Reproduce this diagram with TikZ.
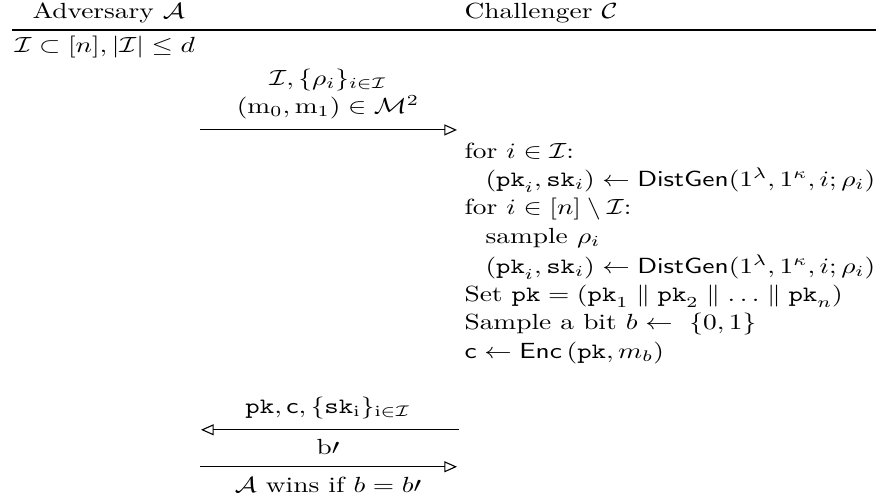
\documentclass[tikz,border=0pt]{standalone}
\usepackage{amsmath,amssymb}
\usepackage{tikz}
\usetikzlibrary{arrows.meta,positioning}
\tikzset{
  sor/.style={anchor=west,inner sep=0pt},
  cimke/.style={inner sep=0pt},
  uzen/.style={-{Triangle[open,length=4.6pt,width=4pt]}},
}
\newcommand{\pk}{\mathtt{pk}}
\newcommand{\sk}{\mathtt{sk}}

\begin{document}
\begin{tikzpicture}[x=0.365pt,y=-0.456pt,yscale=0.8,
    every node/.append style={transform shape}]
  \useasboundingbox (0,0) rectangle (876,503);
  % fejlec
  \node[sor] (adv) at (32,13) {Adversary $\mathcal{A}$};
  \node[sor] (chal) at (464,13) {Challenger $\mathcal{C}$};
  \coordinate (vb) at (12,30);
  \coordinate (vj) at (876,30);
  \draw (vb) -- (vj);
  \node[sor] (valaszt) at (14,47) {$\mathcal{I}\subset[n],|\mathcal{I}|\le d$};
  % elso uzenet
  \node[cimke] (m1a) at (328,80) {$\mathcal{I},\{\rho_i\}_{i\in\mathcal{I}}$};
  \node[cimke] (m1b) at (328,107) {$(\mathrm{m}_0,\mathrm{m}_1)\in\mathcal{M}^2$};
  \coordinate (n1b) at (200,130);
  \coordinate (n1j) at (457,130);
  \draw[uzen] (n1b) -- (n1j);
  % kihivo lepesei
  \node[sor] (s1) at (464,151) {for $i\in\mathcal{I}$:};
  \node[sor] (s2) at (485,180) {$(\pk_i,\sk_i)\leftarrow\mathsf{DistGen}(1^\lambda,1^\kappa,i;\rho_i)$};
  \node[sor] (s3) at (464,209) {for $i\in[n]\setminus\mathcal{I}$:};
  \node[sor] (s4) at (485,238) {sample $\rho_i$};
  \node[sor] (s5) at (485,267) {$(\pk_i,\sk_i)\leftarrow\mathsf{DistGen}(1^\lambda,1^\kappa,i;\rho_i)$};
  \node[sor] (s6) at (464,296) {Set $\pk=(\pk_1\parallel\pk_2\parallel\ldots\parallel\pk_n)$};
  \node[sor] (s7) at (464,324) {Sample a bit $b\leftarrow\ \{0,1\}$};
  \node[sor] (s8) at (464,353) {$\mathsf{c}\leftarrow\mathsf{Enc}\,(\pk,m_b)$};
  % visszaut
  \node[cimke] (m2) at (328,408) {$\pk,\mathsf{c},\{\sk_\mathrm{i}\}_{\mathrm{i}\in\mathcal{I}}$};
  \coordinate (n2j) at (459,430);
  \coordinate (n2b) at (201,430);
  \draw[uzen] (n2j) -- (n2b);
  \node[cimke] (m3) at (328,447) {$\mathrm{b}\prime$};
  \coordinate (n3b) at (200,467);
  \coordinate (n3j) at (457,467);
  \draw[uzen] (n3b) -- (n3j);
  \node[cimke] (nyer) at (328,485) {$\mathcal{A}$ wins if $b=b\prime$};
\end{tikzpicture}
\end{document}
